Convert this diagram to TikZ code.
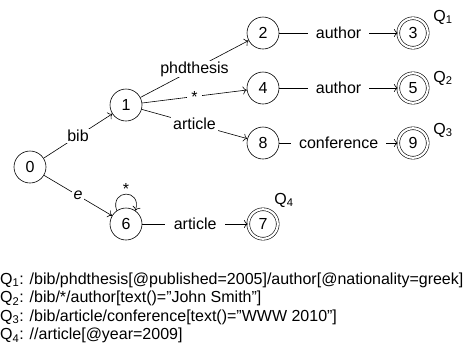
\documentclass[tikz,border=0pt]{standalone}
\usepackage{fontspec}
\setmainfont{Liberation Sans}
\usetikzlibrary{arrows.meta}
\begin{document}
\begin{tikzpicture}[x=1pt,y=-1pt,
  every node/.style={font=\fontsize{16}{18.6}\selectfont},
  st/.style={circle,draw,minimum size=32pt,inner sep=0pt,line width=0.6pt},
  acc/.style={circle,draw,minimum size=29.5pt,inner sep=0pt,double,double distance=2.2pt,line width=0.6pt},
  lbl/.style={fill=white,inner xsep=8pt,inner ysep=1pt},
  arr/.style={line width=0.6pt,-{To[length=4pt,width=8pt]}},
  qline/.style={anchor=base west,inner sep=0pt}]
\useasboundingbox (0,0) rectangle (468,346);
\node[st] (n0) at (30,167) {0};
\node[st] (n1) at (126,105) {1};
\node[st] (n2) at (263,33) {2};
\node[acc] (n3) at (413,33) {3};
\node[st] (n4) at (263,88) {4};
\node[acc] (n5) at (413,88) {5};
\node[st] (n8) at (263,143) {8};
\node[acc] (n9) at (413,143) {9};
\node[st] (n6) at (126,224) {6};
\node[acc] (n7) at (263,224) {7};
\node (q1) at (443,17) {Q\textsubscript{1}};
\node (q2) at (443,78) {Q\textsubscript{2}};
\node (q3) at (443,130) {Q\textsubscript{3}};
\node (q4) at (284,200) {Q\textsubscript{4}};
\draw[arr] (n0) -- node[lbl,inner xsep=2pt,at={(73,135)}] {bib} (n1);
\draw[arr] (n0) -- node[lbl,inner xsep=2pt,at={(76,200)}] {\itshape e} (n6);
\draw[arr] (n1) -- node[lbl,inner xsep=2pt,at={(201,59)}] {phdthesis} (n2);
\draw[arr] (n1) -- node[lbl,inner xsep=4pt,at={(201,99)}] {*} (n4);
\draw[arr] (n1) -- node[lbl,inner xsep=2pt,at={(196,128)}] {article} (n8);
\draw[arr] (n2) -- node[lbl,at={(338.5,33)}] {author} (n3);
\draw[arr] (n4) -- node[lbl,at={(338.5,88)}] {author} (n5);
\draw[arr] (n8) -- node[lbl,at={(338.5,145)}] {conference} (n9);
\draw[arr] (n6) -- node[lbl,inner xsep=9pt,at={(194.5,224)}] {article} (n7);
\draw[arr] (n6.125) .. controls +(-7,-22) and +(7,-22) .. (n6.55)
  node[inner sep=0pt,at={(126,189)}] {*};
\node[qline] (l1) at (0,284) {Q\textsubscript{1}: /bib/phdthesis[@published=2005]/author[@nationality=greek]};
\node[qline] (l2) at (0,302.5) {Q\textsubscript{2}: /bib/*/author[text()="John Smith"]};
\node[qline] (l3) at (0,321) {Q\textsubscript{3}: /bib/article/conference[text()="WWW 2010"]};
\node[qline] (l4) at (0,339.5) {Q\textsubscript{4}: //article[@year=2009]};
\end{tikzpicture}
\end{document}
